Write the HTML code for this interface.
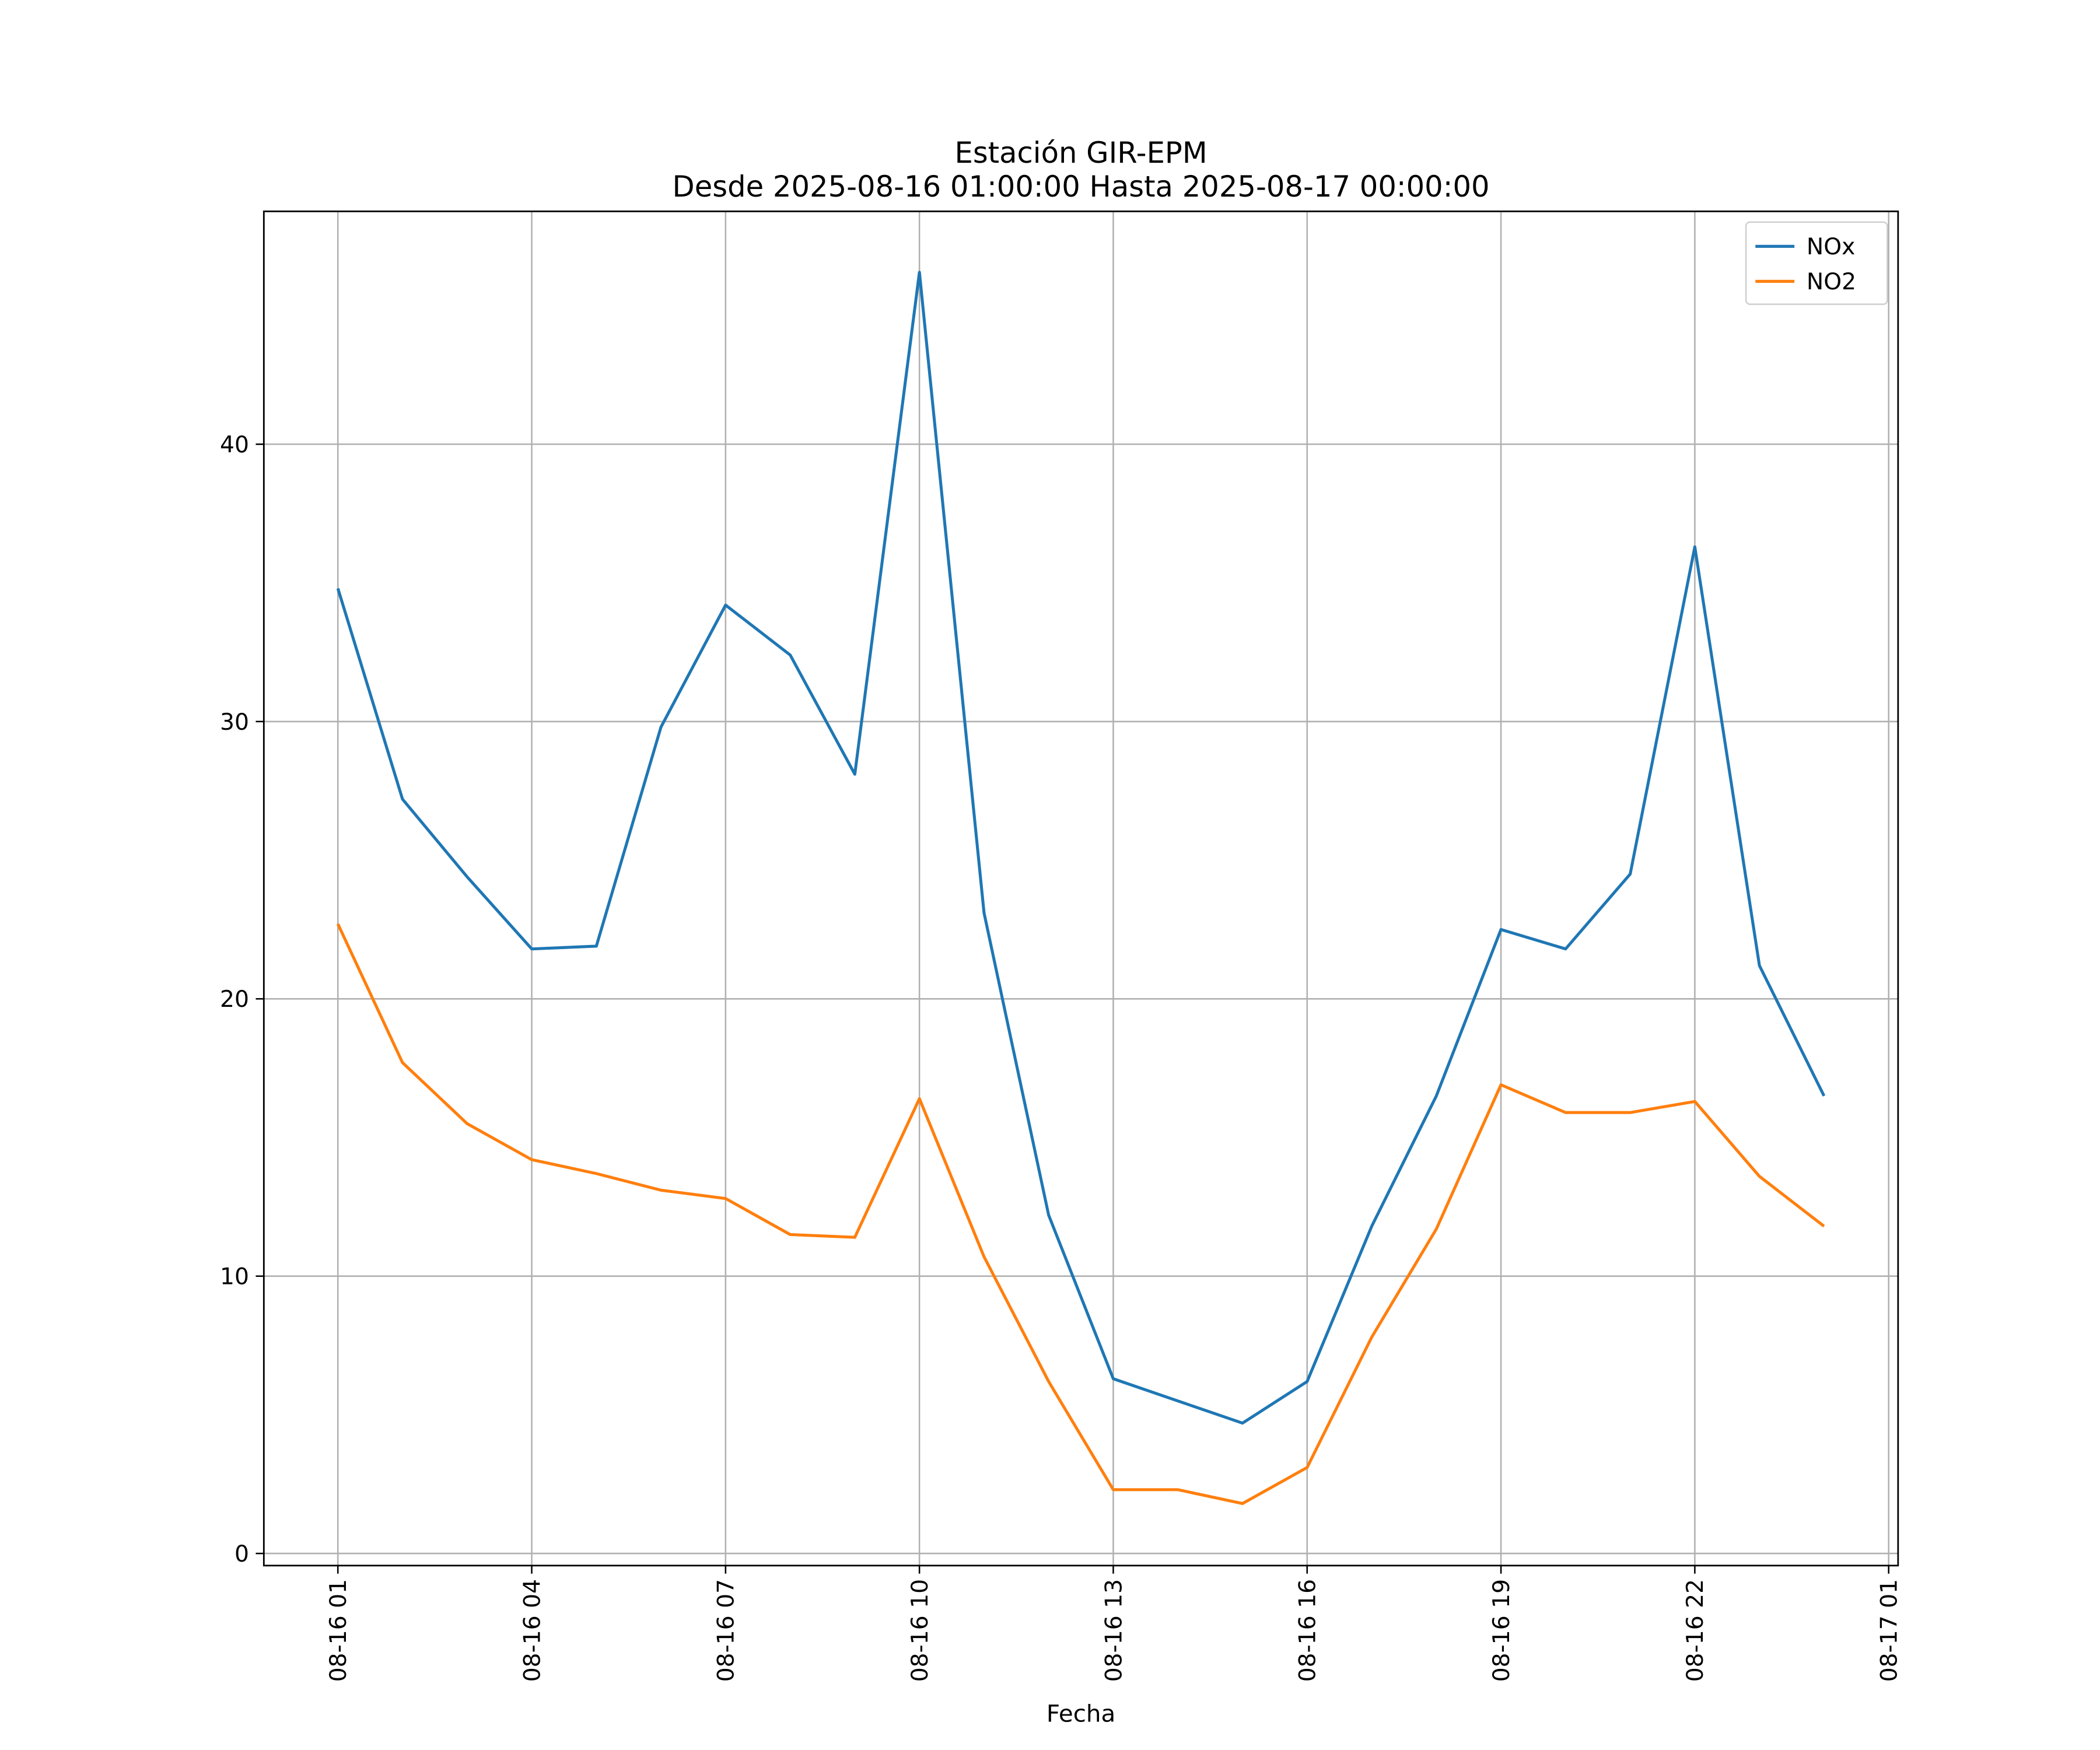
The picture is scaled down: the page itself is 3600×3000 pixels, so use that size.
<!DOCTYPE html>
<html><head><meta charset="utf-8"><style>
html,body{margin:0;padding:0;background:#fff;}
svg{display:block;}
text{font-family:"DejaVu Sans","Liberation Sans",sans-serif;fill:#000;}
</style></head><body>
<svg id="chart" width="3600" height="3000" viewBox="0 0 1560 1300" xmlns="http://www.w3.org/2000/svg">
<rect width="1560" height="1300" fill="#fff"/>
<text x="803" y="121" font-size="21.5" text-anchor="middle">Estación GIR-EPM</text>
<text x="803" y="146" font-size="21.5" text-anchor="middle">Desde 2025-08-16 01:00:00 Hasta 2025-08-17 00:00:00</text>
<g id="grid"></g>
<g id="series"></g>
<rect x="196" y="157" width="1214" height="1006" fill="none" stroke="#000" stroke-width="1.2"/>
<g id="ticks"></g>
<text x="803" y="1279" font-size="17.5" text-anchor="middle">Fecha</text>
<g>
<rect x="1297" y="165" width="105" height="61" rx="3" fill="#fff" stroke="#ccc"/>
<line x1="1304" y1="183" x2="1333" y2="183" stroke="#1f77b4" stroke-width="2.2"/>
<text x="1342" y="189" font-size="17">NOx</text>
<line x1="1304" y1="209" x2="1333" y2="209" stroke="#ff7f0e" stroke-width="2.2"/>
<text x="1342" y="215" font-size="17">NO2</text>
</g>
</svg>
<script>
const hours = [1,2,3,4,5,6,7,8,9,10,11,12,13,14,15,16,17,18,19,20,21,22,23,24];
const noxValues = [34.8,27.2,24.4,21.8,21.9,29.8,34.2,32.4,28.1,46.2,23.1,12.2,6.3,5.5,4.7,6.2,11.8,16.5,22.5,21.8,24.5,36.3,21.2,16.5];
const no2Values = [22.7,17.7,15.5,14.2,13.7,13.1,12.8,11.5,11.4,16.4,10.7,6.2,2.3,2.3,1.8,3.1,7.8,11.7,16.9,15.9,15.9,16.3,13.6,11.8];
const yTicks = [0,10,20,30,40];
const xTickHours = [1,4,7,10,13,16,19,22,25];
const xTickLabels = ["08-16 01","08-16 04","08-16 07","08-16 10","08-16 13","08-16 16","08-16 19","08-16 22","08-17 01"];

const NS="http://www.w3.org/2000/svg";
function xs(h){return 251+(h-1)*48;}
function ys(v){return 1154-v*20.6;}
function mk(tag,attrs,parent){const e=document.createElementNS(NS,tag);for(const k in attrs)e.setAttribute(k,attrs[k]);parent.appendChild(e);return e;}
const grid=document.getElementById('grid'),ticks=document.getElementById('ticks'),series=document.getElementById('series');
yTicks.forEach(v=>{
  const g=mk('line',{x1:196,x2:1410,y1:ys(v),y2:ys(v),stroke:'#b0b0b0','stroke-width':1.1},grid);
  
  
  mk('line',{x1:190,x2:196,y1:ys(v),y2:ys(v),stroke:'#000','stroke-width':1.1},ticks);
  const t=mk('text',{x:185,y:ys(v)+6,'font-size':17,'text-anchor':'end'},ticks);
  t.textContent=v;
  
  
});
xTickHours.forEach((h,i)=>{
  const x=xs(h);
  if(x<1410){
    const g=mk('line',{x1:x,x2:x,y1:157,y2:1163,stroke:'#b0b0b0','stroke-width':1.1},grid);
    
    
  }
  mk('line',{x1:x,x2:x,y1:1163,y2:1169,stroke:'#000','stroke-width':1.1},ticks);
  const t=mk('text',{x:0,y:0,'font-size':17,'text-anchor':'end',transform:`translate(${x+6},1173) rotate(-90)`},ticks);
  t.textContent=xTickLabels[i];
  
  
});
function line(vals,color,name){
  const p=mk('polyline',{points:vals.map((v,i)=>xs(hours[i])+','+ys(v)).join(' '),fill:'none',stroke:color,'stroke-width':2.2,'stroke-linejoin':'round'},series);
  
  
}
line(noxValues,'#1f77b4','nox-line');
line(no2Values,'#ff7f0e','no2-line');
</script>
</body></html>
